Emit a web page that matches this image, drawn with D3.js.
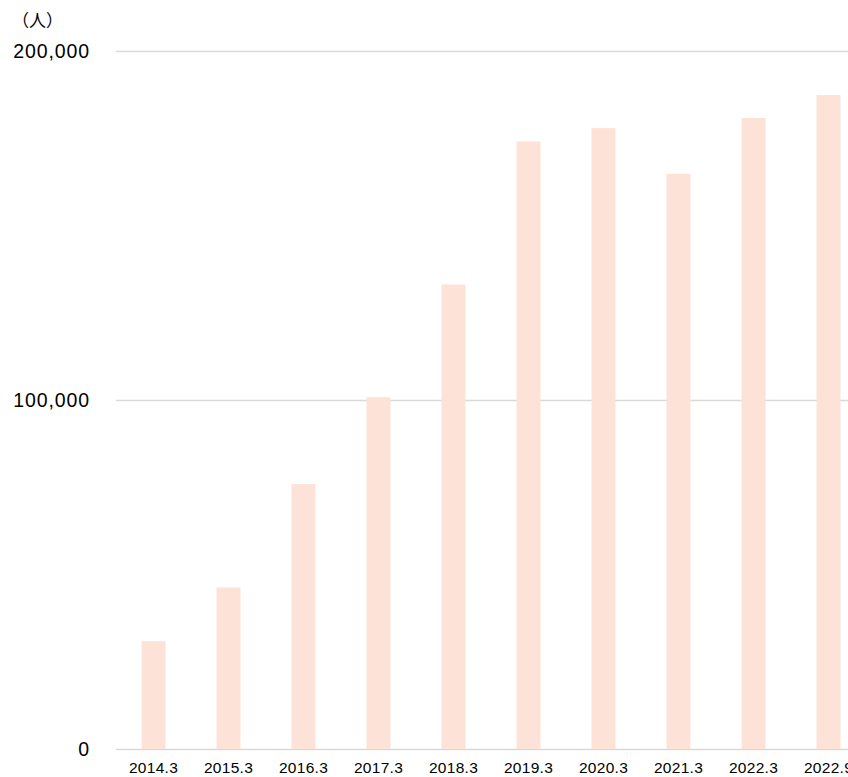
<!DOCTYPE html>
<html><head><meta charset="utf-8">
<script src="https://cdn.jsdelivr.net/npm/d3@7"></script>
<style>body{margin:0;background:#fff;overflow:hidden}svg{display:block}</style>
</head><body>
<script>
const categories = ["2014.3","2015.3","2016.3","2017.3","2018.3","2019.3","2020.3","2021.3","2022.3","2022.9"];
const values = [30900, 46300, 75900, 100800, 133100, 174100, 177900, 164800, 180800, 187400];
const yTicks = [0, 100000, 200000];
const unitLabel = "（人）";

const W = 848, H = 777;
const svg = d3.select("body").append("svg").attr("width", W).attr("height", H);
const x = d3.scaleBand().domain(categories).range([116, 866]).paddingInner(0.68).paddingOuter(0.34);
const y = d3.scaleLinear().domain([0, 200000]).range([749, 51]);
const font = "'Liberation Sans', Arial, sans-serif";

// gridlines
svg.append("g").selectAll("line").data(yTicks).join("line")
  .attr("x1", 116).attr("x2", W)
  .attr("y1", d => y(d) + 0.5).attr("y2", d => y(d) + 0.5)
  .attr("stroke", "#d9d9d9").attr("stroke-width", 1.3);

// bars
svg.append("g").selectAll("rect").data(values).join("rect")
  .attr("x", (d, i) => x(categories[i]))
  .attr("width", x.bandwidth())
  .attr("y", d => y(d))
  .attr("height", d => y(0) - y(d))
  .attr("fill", "#fde2d8");

// y labels
const fmt = d3.format(",");
svg.append("g").selectAll("text").data(yTicks).join("text")
  .attr("x", 90).attr("y", d => y(d) + 7)
  .attr("text-anchor", "end")
  .attr("font-family", font).attr("font-size", 19.5)
  .attr("letter-spacing", 0.9)
  .attr("fill", "#000")
  .text(d => fmt(d));

// x labels
svg.append("g").selectAll("text").data(categories).join("text")
  .attr("x", d => x(d) + x.bandwidth() / 2).attr("y", 773)
  .attr("text-anchor", "middle")
  .attr("font-family", font).attr("font-size", 15.5)
  .attr("letter-spacing", 0.3)
  .attr("fill", "#000")
  .text(d => d);

// unit
svg.append("text").attr("x", 12).attr("y", 27)
  .attr("font-family", "'Noto Sans CJK JP', sans-serif").attr("font-size", 17)
  .attr("fill", "#000").text(unitLabel);
</script>
</body></html>
